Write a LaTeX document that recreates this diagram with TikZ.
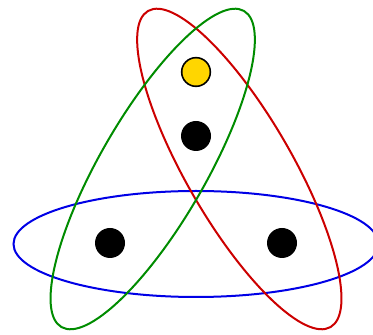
\documentclass[tikz,border=0pt]{standalone}
\begin{document}
\begin{tikzpicture}[x=0.75pt,y=0.75pt,
  ring/.style={line width=1.5pt},
  dot/.style={circle,fill=black,minimum size=22.5pt,inner sep=0pt},
  ydot/.style={circle,fill=gold,draw=black,line width=1.2pt,minimum size=21.5pt,inner sep=0pt}]
\definecolor{gold}{RGB}{255,214,0}
\definecolor{eblue}{RGB}{0,0,230}
\definecolor{ered}{RGB}{204,0,0}
\definecolor{egreen}{RGB}{0,140,0}
\useasboundingbox (0,0) rectangle (373,334);
\coordinate (C) at (196,140);
\draw[ring,eblue] (196,90) ellipse [x radius=182.5, y radius=53];
\draw[ring,ered,rotate around={120:(C)}] (196,90) ellipse [x radius=182.5, y radius=53];
\draw[ring,egreen,rotate around={-120:(C)}] (196,90) ellipse [x radius=182.5, y radius=53];
\node[ydot] (y) at (196,262) {};
\node[dot] (t) at (196,198) {};
\node[dot] (l) at (110,91) {};
\node[dot] (r) at (282,91) {};
\end{tikzpicture}
\end{document}
